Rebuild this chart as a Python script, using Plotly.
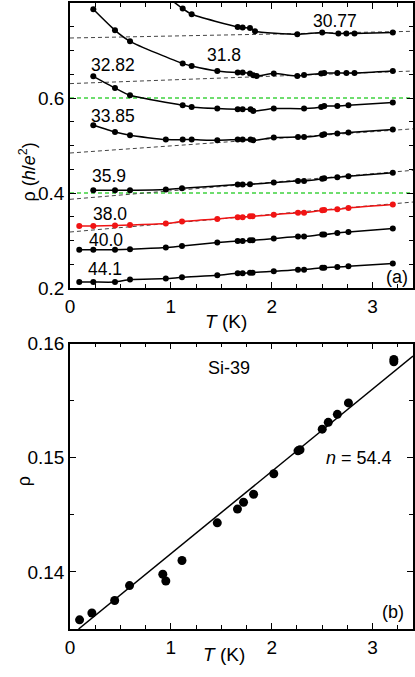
"""
Resistivity vs temperature: (a) family of curves for several densities, (b) Si-39 linear fit.
"""

import plotly.graph_objects as go

# ---- panel (a) data: T (K) and rho (h/e^2) per curve, label = density ----
T_441 = [0.092, 0.231, 0.446, 0.595, 0.95, 1.11, 1.46, 1.662, 1.711, 1.784, 1.81, 2.02, 2.26, 2.32, 2.50, 2.52, 2.65, 2.76, 3.20]
rho_441 = [0.2126, 0.2126, 0.2126, 0.2177, 0.2198, 0.2225, 0.2267, 0.2309, 0.2309, 0.2324, 0.2324, 0.2352, 0.2387, 0.2387, 0.2429, 0.2429, 0.2442, 0.2457, 0.2514]

T_400 = [0.092, 0.231, 0.446, 0.595, 0.95, 1.11, 1.46, 1.662, 1.711, 1.784, 1.81, 2.02, 2.26, 2.32, 2.50, 2.52, 2.65, 2.76, 3.20]
rho_400 = [0.2808, 0.2808, 0.2808, 0.2815, 0.2851, 0.2884, 0.2956, 0.2989, 0.2989, 0.3004, 0.3004, 0.3040, 0.3082, 0.3082, 0.3124, 0.3124, 0.3158, 0.3179, 0.3251]

T_380 = [0.092, 0.231, 0.446, 0.595, 0.95, 1.11, 1.46, 1.662, 1.711, 1.784, 1.81, 2.02, 2.26, 2.32, 2.50, 2.52, 2.65, 2.76, 3.20]
rho_380 = [0.3305, 0.3305, 0.3314, 0.3326, 0.3356, 0.3398, 0.3453, 0.3488, 0.3488, 0.3509, 0.3509, 0.3545, 0.3587, 0.3587, 0.3636, 0.3640, 0.3657, 0.3684, 0.3756]

T_359 = [0.231, 0.446, 0.595, 0.95, 1.11, 1.662, 1.711, 1.784, 2.02, 2.26, 2.32, 2.50, 2.52, 2.65, 2.76, 3.20]
rho_359 = [0.4057, 0.4057, 0.4057, 0.4072, 0.4099, 0.4177, 0.4177, 0.4183, 0.4219, 0.4253, 0.4253, 0.4298, 0.4310, 0.4331, 0.4352, 0.4429]

T_3385 = [0.231, 0.446, 0.595, 0.95, 1.117, 1.206, 1.46, 1.662, 1.711, 1.79, 1.817, 2.02, 2.26, 2.32, 2.50, 2.52, 2.65, 2.76, 3.20]
rho_3385 = [0.5425, 0.5284, 0.5215, 0.5124, 0.5124, 0.5124, 0.5109, 0.5124, 0.5124, 0.5124, 0.5109, 0.5166, 0.5179, 0.5179, 0.5221, 0.5236, 0.5251, 0.5272, 0.5335]

T_3282 = [0.231, 0.446, 0.595, 1.117, 1.206, 1.46, 1.662, 1.711, 1.79, 1.817, 2.02, 2.32, 2.49, 2.52, 2.65, 2.76, 3.20]
rho_3282 = [0.6457, 0.6211, 0.6057, 0.5846, 0.5811, 0.5777, 0.5762, 0.5762, 0.5762, 0.5726, 0.5777, 0.5777, 0.5811, 0.5832, 0.5832, 0.5846, 0.5903]

T_318 = [0.231, 0.446, 0.595, 1.117, 1.206, 1.46, 1.662, 1.711, 1.784, 1.817, 1.85, 2.02, 2.253, 2.32, 2.49, 2.52, 2.65, 2.74, 2.82, 3.20]
rho_318 = [0.7867, 0.7425, 0.7194, 0.6724, 0.6674, 0.6568, 0.6535, 0.6535, 0.6514, 0.6478, 0.6463, 0.6514, 0.6463, 0.6484, 0.6514, 0.6526, 0.6526, 0.6526, 0.6526, 0.6568]

# first point lies just above the frame, the curve enters from the top
T_3077 = [0.95, 1.117, 1.206, 1.662, 1.711, 1.784, 1.834, 2.253, 2.50, 2.66, 2.74, 2.82, 3.20]
rho_3077 = [0.815, 0.7882, 0.7762, 0.7495, 0.7482, 0.7474, 0.7404, 0.7341, 0.7377, 0.7356, 0.7356, 0.7356, 0.7377]

# high-T linear extrapolations (rho at T=0 and T=3.4)
fit_T_a = [0.0, 3.4]
fit_3077 = [0.7263, 0.7404]
fit_318 = [0.6303, 0.6568]
fit_3385 = [0.4842, 0.5351]
fit_359 = [0.3867, 0.4478]
fit_380 = [0.3179, 0.3810]
green_levels = [0.6, 0.4]

# curve labels: (text, T, rho)
labels_a = [
    ('30.77', 2.63, 0.762), ('31.8', 1.53, 0.691), ('32.82', 0.43, 0.669),
    ('33.85', 0.43, 0.562), ('35.9', 0.385, 0.4352), ('38.0', 0.397, 0.3566),
    ('40.0', 0.36, 0.3019), ('44.1', 0.344, 0.2394),
]

# ---- panel (b) data: Si-39 ----
T_b = [0.095, 0.217, 0.443, 0.59, 0.92, 0.95, 1.11, 1.46, 1.66, 1.72, 1.82, 2.02, 2.26, 2.28, 2.50, 2.56, 2.65, 2.76, 3.21, 3.21]
rho_b = [0.1358, 0.1364, 0.1375, 0.1388, 0.1398, 0.1392, 0.1410, 0.1443, 0.1455, 0.1461, 0.1468, 0.1486, 0.1506, 0.1507, 0.1525, 0.1531, 0.1538, 0.1548, 0.1586, 0.1584]
fit_T_b = [0.085, 3.40]
fit_rho_b = [0.1350, 0.1589]

FONT = 'Liberation Sans, Arial, sans-serif'
LINE_W = 1.5
GRAY_DASH = '#444444'
GREEN = '#3fd23f'
RED = '#f01414'

fig = go.Figure()


def add_curve(T, rho, color='black'):
    fig.add_trace(go.Scatter(
        x=T, y=rho, mode='lines+markers', xaxis='x', yaxis='y',
        line=dict(color=color, width=LINE_W, shape='spline', smoothing=0.6),
        marker=dict(color=color, size=6),
        showlegend=False,
    ))


def add_dash(T, rho, color=GRAY_DASH, width=1):
    fig.add_trace(go.Scatter(
        x=T, y=rho, mode='lines', xaxis='x', yaxis='y',
        line=dict(color=color, width=width, dash='4px,3px'),
        showlegend=False,
    ))


for level in green_levels:
    add_dash(fit_T_a, [level, level], color=GREEN, width=1.4)
for fit in [fit_3077, fit_318, fit_3385, fit_359, fit_380]:
    add_dash(fit_T_a, fit)

add_curve(T_3077, rho_3077)
add_curve(T_318, rho_318)
add_curve(T_3282, rho_3282)
add_curve(T_3385, rho_3385)
add_curve(T_359, rho_359)
add_curve(T_380, rho_380, color=RED)
add_curve(T_400, rho_400)
add_curve(T_441, rho_441)

# panel (b)
fig.add_trace(go.Scatter(
    x=fit_T_b, y=fit_rho_b, mode='lines', xaxis='x2', yaxis='y2',
    line=dict(color='black', width=LINE_W), showlegend=False,
))
fig.add_trace(go.Scatter(
    x=T_b, y=rho_b, mode='markers', xaxis='x2', yaxis='y2',
    marker=dict(color='black', size=9), showlegend=False,
))

annotations = []
for text, t, r in labels_a:
    annotations.append(dict(text=text, x=t, y=r, xref='x', yref='y', showarrow=False,
                            font=dict(size=17.5)))
annotations.append(dict(text='(a)', x=3.24, y=0.2232, xref='x', yref='y', showarrow=False,
                        font=dict(size=18)))
annotations.append(dict(text='Si-39', x=1.58, y=0.1579, xref='x2', yref='y2', showarrow=False,
                        font=dict(size=18)))
annotations.append(dict(text='<i>n</i> = 54.4', x=2.86, y=0.1500, xref='x2', yref='y2',
                        showarrow=False, font=dict(size=18)))
annotations.append(dict(text='(b)', x=3.206, y=0.1365, xref='x2', yref='y2', showarrow=False,
                        font=dict(size=18)))

# axis titles placed in paper coordinates (plot area 70..413 px wide, 3..629 px tall)
annotations += [
    dict(text='<i>T</i> (K)', x=0.455, y=0.491, xref='paper', yref='paper', showarrow=False,
         font=dict(size=19)),
    dict(text='<i>T</i> (K)', x=0.450, y=-0.061, xref='paper', yref='paper', showarrow=False,
         font=dict(size=19)),
    dict(text='ρ (<i>h</i>/<i>e</i><sup>2</sup>)', x=-0.162, y=0.781, xref='paper', yref='paper',
         showarrow=False, textangle=-90, font=dict(size=18)),
    dict(text='ρ', x=-0.169, y=0.225, xref='paper', yref='paper', showarrow=False,
         textangle=-90, font=dict(size=18)),
]

axis_common = dict(
    showline=True, linecolor='black', linewidth=1.5, mirror='allticks',
    ticks='inside', ticklen=6, tickwidth=1.2, tickcolor='black',
    showgrid=False, zeroline=False, automargin=False, tickfont=dict(size=19),
)

fig.update_layout(
    template='none',
    width=415, height=677, autosize=False,
    margin=dict(l=70, r=2, t=3, b=48, pad=0),
    paper_bgcolor='white', plot_bgcolor='white',
    font=dict(family=FONT, color='black'),
    xaxis=dict(axis_common, domain=[0, 1], range=[0, 3.4], anchor='y',
               tickvals=[0, 1, 2, 3],
               minor=dict(dtick=0.25, tick0=0, ticks='inside', ticklen=4, tickcolor='black')),
    yaxis=dict(axis_common, domain=[0.5447, 1], range=[0.2, 0.8], anchor='x',
               tickvals=[0.2, 0.4, 0.6], ticktext=['0.2', '0.4', '0.6'],
               minor=dict(dtick=0.05, tick0=0, ticks='inside', ticklen=4, tickcolor='black')),
    xaxis2=dict(axis_common, domain=[0, 1], range=[0, 3.4], anchor='y2',
                tickvals=[0, 1, 2, 3],
                minor=dict(dtick=0.25, tick0=0, ticks='inside', ticklen=4, tickcolor='black')),
    yaxis2=dict(axis_common, domain=[0, 0.456], range=[0.135, 0.16], anchor='x2',
                tickvals=[0.14, 0.15, 0.16], ticktext=['0.14', '0.15', '0.16'],
                minor=dict(dtick=0.005, tick0=0, ticks='inside', ticklen=4, tickcolor='black')),
    annotations=annotations,
)

# the page's default body margin would push the fixed-size figure out of the window
fig.write_html(
    "out.html",
    config={'displayModeBar': False},
    post_script="document.body.style.margin='0';document.body.style.overflow='hidden';",
)
